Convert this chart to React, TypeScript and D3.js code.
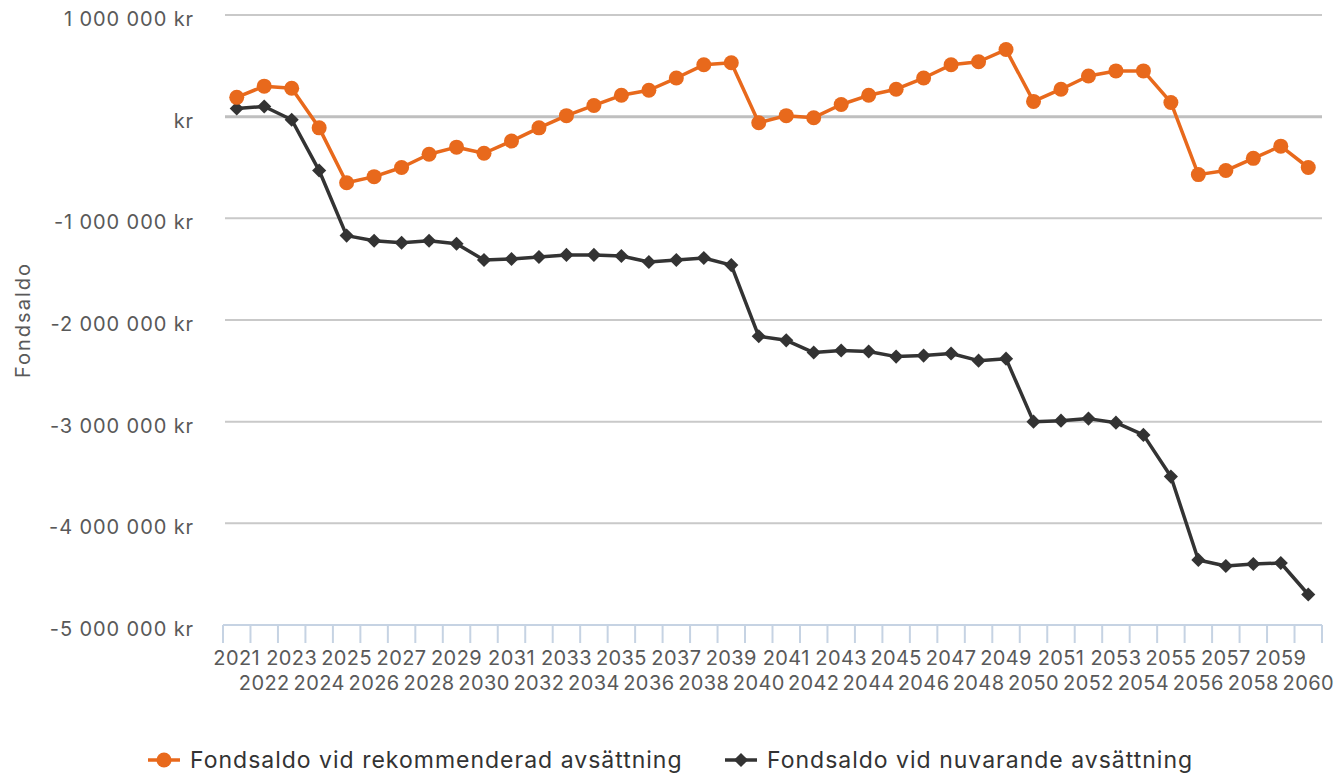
import { useEffect, useRef } from 'react';
import * as d3 from 'd3';

const years = d3.range(2021, 2061).map(String);

// Fondsaldo vid rekommenderad avsättning (miljoner kr)
const recommended = [
  0.19, 0.30, 0.28, -0.11, -0.65, -0.59, -0.50, -0.37, -0.30, -0.36,
  -0.24, -0.11, 0.01, 0.11, 0.21, 0.26, 0.38, 0.51, 0.53, -0.06,
  0.01, -0.01, 0.12, 0.21, 0.27, 0.38, 0.51, 0.54, 0.66, 0.15,
  0.27, 0.40, 0.45, 0.45, 0.14, -0.57, -0.53, -0.41, -0.29, -0.50,
];

// Fondsaldo vid nuvarande avsättning (miljoner kr)
const current = [
  0.08, 0.10, -0.03, -0.53, -1.17, -1.22, -1.24, -1.22, -1.25, -1.41,
  -1.40, -1.38, -1.36, -1.36, -1.37, -1.43, -1.41, -1.39, -1.46, -2.16,
  -2.20, -2.32, -2.30, -2.31, -2.36, -2.35, -2.33, -2.40, -2.38, -3.00,
  -2.99, -2.97, -3.01, -3.13, -3.54, -4.36, -4.42, -4.40, -4.39, -4.70,
];

const yTicks = [1, 0, -1, -2, -3, -4, -5];

const seriesNames = [
  'Fondsaldo vid rekommenderad avsättning',
  'Fondsaldo vid nuvarande avsättning',
];

const ORANGE = '#e8691c';
const DARK = '#333333';
const TEXT = '#595959';
const FONT = 'Inter, "Noto Sans", sans-serif';

const App = () => {
  const svgRef = useRef<SVGSVGElement>(null);

  useEffect(() => {
    if (!svgRef.current) return;
    const svg = d3.select(svgRef.current);
    svg.selectAll('*').remove();

    const x = d3.scaleBand<string>().domain(years).range([223, 1322]).padding(0);
    const y = d3.scaleLinear().domain([-5, 1]).range([625, 15]);
    const cx = (i: number) => (x(years[i]) as number) + x.bandwidth() / 2;

    const fmt = d3.formatLocale({ decimal: ',', thousands: ' ', grouping: [3], currency: ['', ''], minus: '-' }).format(',d');

    // rutnät
    svg.append('g')
      .selectAll('line')
      .data(yTicks)
      .join('line')
      .attr('x1', 225)
      .attr('x2', 1322)
      .attr('y1', d => y(d))
      .attr('y2', d => y(d))
      .attr('stroke', d => (d === 0 ? '#bfbfbf' : '#c9c9c9'))
      .attr('stroke-width', d => (d === 0 ? 3 : 2));

    // y-etiketter
    svg.append('g')
      .selectAll('text')
      .data(yTicks)
      .join('text')
      .attr('x', 194)
      .attr('y', d => y(d) + 11)
      .attr('text-anchor', 'end')
      .attr('font-family', FONT)
      .attr('font-size', 20)
      .attr('letter-spacing', 0.9)
      .attr('fill', TEXT)
      .text(d => (d === 0 ? 'kr' : `${fmt(d * 1000000)} kr`));

    // y-titel
    svg.append('text')
      .attr('transform', 'translate(30,320) rotate(-90)')
      .attr('text-anchor', 'middle')
      .attr('font-family', FONT)
      .attr('font-size', 20)
      .attr('letter-spacing', 2)
      .attr('fill', TEXT)
      .text('Fondsaldo');

    // x-axel
    svg.append('line')
      .attr('x1', 223)
      .attr('x2', 1322)
      .attr('y1', 625)
      .attr('y2', 625)
      .attr('stroke', '#c6d3e3')
      .attr('stroke-width', 2);

    const tickPos = years.map(yr => x(yr) as number).concat([1322]);
    svg.append('g')
      .selectAll('line')
      .data(tickPos)
      .join('line')
      .attr('x1', d => d)
      .attr('x2', d => d)
      .attr('y1', 625)
      .attr('y2', 643)
      .attr('stroke', '#c6d3e3')
      .attr('stroke-width', 2);

    svg.append('g')
      .selectAll('text')
      .data(years)
      .join('text')
      .attr('x', (d, i) => cx(i))
      .attr('y', (d, i) => (i % 2 === 0 ? 665 : 690))
      .attr('text-anchor', 'middle')
      .attr('font-family', FONT)
      .attr('font-size', 20)
      .attr('letter-spacing', 0.4)
      .attr('fill', TEXT)
      .text(d => d);

    const line = d3.line<number>()
      .x((d, i) => cx(i))
      .y(d => y(d));

    // nuvarande
    svg.append('path')
      .datum(current)
      .attr('d', line)
      .attr('fill', 'none')
      .attr('stroke', DARK)
      .attr('stroke-width', 3.5)
      .attr('stroke-linejoin', 'round');

    const diamond = d3.symbol().type(d3.symbolSquare).size(100);
    svg.append('g')
      .selectAll('path')
      .data(current)
      .join('path')
      .attr('d', diamond)
      .attr('transform', (d, i) => `translate(${cx(i)},${y(d)}) rotate(45)`)
      .attr('fill', DARK);

    // rekommenderad
    svg.append('path')
      .datum(recommended)
      .attr('d', line)
      .attr('fill', 'none')
      .attr('stroke', ORANGE)
      .attr('stroke-width', 3.5)
      .attr('stroke-linejoin', 'round');

    svg.append('g')
      .selectAll('circle')
      .data(recommended)
      .join('circle')
      .attr('cx', (d, i) => cx(i))
      .attr('cy', d => y(d))
      .attr('r', 7.5)
      .attr('fill', ORANGE);

    // legend
    const legend = [
      { name: seriesNames[0], color: ORANGE, x: 148, shape: 'circle' },
      { name: seriesNames[1], color: DARK, x: 725, shape: 'diamond' },
    ];
    legend.forEach(l => {
      const g = svg.append('g');
      g.append('line')
        .attr('x1', l.x)
        .attr('x2', l.x + 32)
        .attr('y1', 760)
        .attr('y2', 760)
        .attr('stroke', l.color)
        .attr('stroke-width', 3.5);
      if (l.shape === 'circle') {
        g.append('circle').attr('cx', l.x + 16).attr('cy', 760).attr('r', 7.5).attr('fill', l.color);
      } else {
        g.append('path').attr('d', diamond).attr('transform', `translate(${l.x + 16},760) rotate(45)`).attr('fill', l.color);
      }
      g.append('text')
        .attr('x', l.x + 42)
        .attr('y', 768)
        .attr('font-family', FONT)
        .attr('font-size', 23)
        .attr('letter-spacing', 1)
        .attr('fill', DARK)
        .text(l.name);
    });
  }, []);

  return (
    <svg
      ref={svgRef}
      width={1343}
      height={773}
      style={{ position: 'absolute', left: 0, top: 0, background: '#fff' }}
    />
  );
};

export default App;
